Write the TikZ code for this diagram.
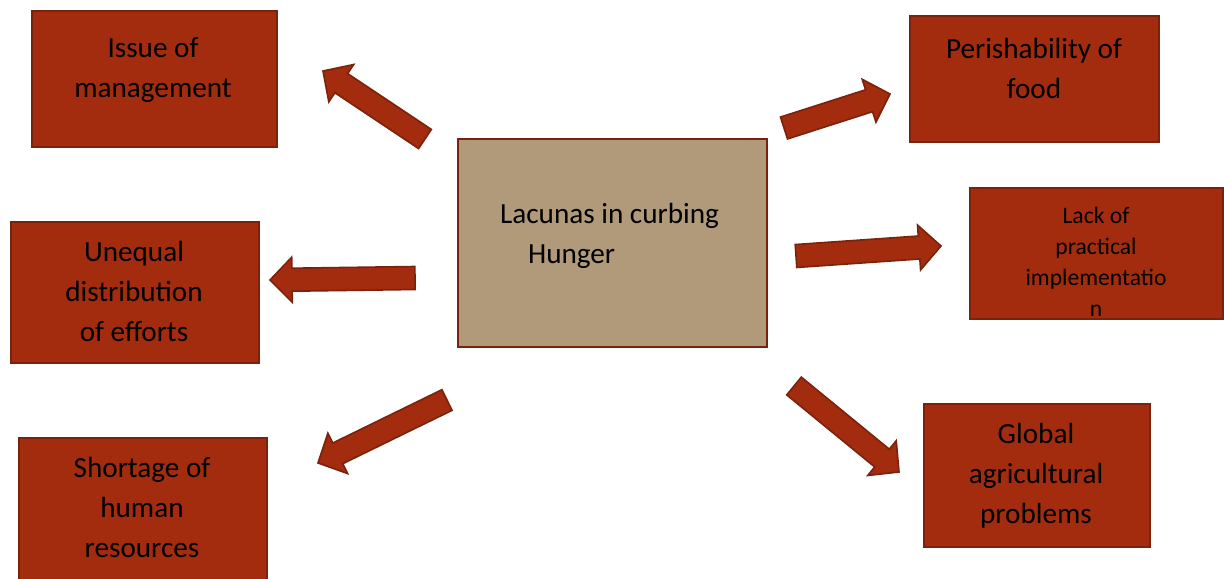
\documentclass[tikz,border=0pt]{standalone}
\usepackage{fontspec}
\setmainfont{Carlito}
\usepackage{xcolor}
\usepackage{tikz}
\usetikzlibrary{calc,positioning}

\definecolor{rust}{HTML}{A32C0E}
\definecolor{rustdark}{HTML}{7A220C}
\definecolor{tan}{HTML}{B09A7A}

\begin{document}
\begin{tikzpicture}[
    x=0.5pt,
    y=-0.5pt,
    box/.style={draw=rustdark,fill=rust,line width=1pt,anchor=north west,
                inner sep=0pt},
    hub/.style={draw=rustdark,fill=tan,line width=1.2pt,anchor=north west,
                inner sep=0pt},
    lbl/.style={align=center,font=\fontsize{14.6}{20}\selectfont},
    barrow/.style={draw=rustdark,fill=rust,line width=0.8pt,line join=miter}
]

\useasboundingbox (0,0) rectangle (1224,578);

% boxes
\node[hub, minimum width=154.5pt, minimum height=104pt] (hunger) at (457,138) {};
\node[box, minimum width=122.5pt, minimum height=68pt] (issue) at (31,10) {};
\node[box, minimum width=124pt, minimum height=70.5pt] (unequal) at (10,221) {};
\node[box, minimum width=124pt, minimum height=72pt] (shortage) at (18,437) {};
\node[box, minimum width=124.5pt, minimum height=63pt] (perish) at (909,15) {};
\node[box, minimum width=126.5pt, minimum height=65.5pt] (lack) at (969,187) {};
\node[box, minimum width=113pt, minimum height=71.5pt] (global) at (923,403) {};

% texts
\node[lbl, align=left, anchor=west] (hunger-t) at (493,236)
    {Lacunas in curbing\\\hspace*{14pt}Hunger};
\node[lbl] (issue-t) at (153,70) {Issue of\\management};
\node[lbl] (unequal-t) at (134,291) {Unequal\\distribution\\of efforts};
\node[lbl] (shortage-t) at (142,507) {Shortage of\\human\\resources};
\node[lbl] (perish-t) at (1034,68) {Perishability of\\food};
\node[lbl, font=\fontsize{11.8}{15.5}\selectfont] (lack-t) at (1096,262)
    {Lack of\\practical\\implementatio\\n};
\node[lbl] (global-t) at (1036,476) {Global\\agricultural\\problems};

% arrow ends
\coordinate (t1) at (425,139);  \coordinate (h1) at (323,71);
\coordinate (t2) at (415,278);  \coordinate (h2) at (270,280);
\coordinate (t3) at (447,400);  \coordinate (h3) at (318,463);
\coordinate (t4) at (784,128);  \coordinate (h4) at (890,94);
\coordinate (t5) at (796,256);  \coordinate (h5) at (941,246);
\coordinate (t6) at (794,386);  \coordinate (h6) at (899,472);

\foreach \t/\h in {t1/h1,t2/h2,t3/h3,t4/h4,t5/h5,t6/h6}{
  \coordinate (nk) at ($(\h)!11pt!(\t)$);
  \draw[barrow]
    ($(\t)!5.75pt!90:(\h)$) -- ($(nk)!5.75pt!90:(\h)$)
    -- ($(nk)!11.25pt!90:(\h)$) -- (\h)
    -- ($(nk)!11.25pt!-90:(\h)$) -- ($(nk)!5.75pt!-90:(\h)$)
    -- ($(\t)!5.75pt!-90:(\h)$) -- cycle;
}

\end{tikzpicture}
\end{document}
